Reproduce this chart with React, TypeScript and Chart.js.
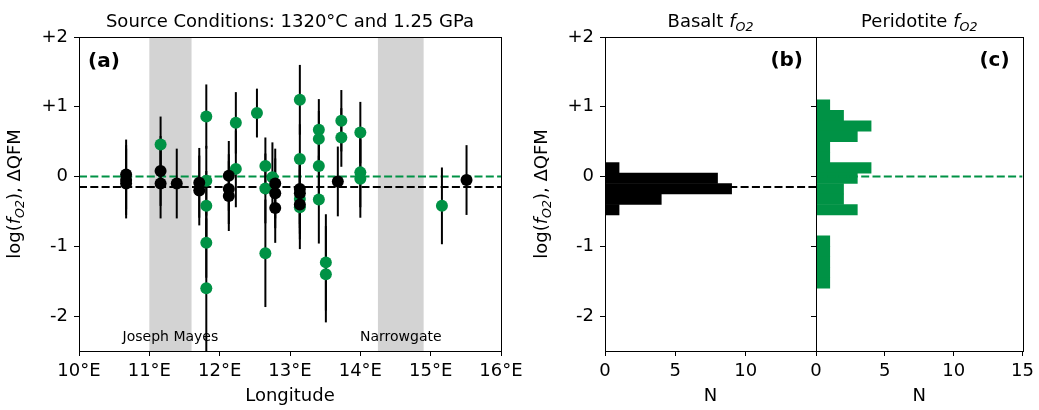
import { useEffect, useRef } from 'react';
import { Chart, registerables } from 'chart.js';

Chart.register(...registerables);

const W = 1039;
const H = 410;
const GREEN = '#009245';
const BAND = '#d3d3d3';
const FONT = "'DejaVu Sans', Verdana, sans-serif";

// ---------- Panel (a): basalt (black) and peridotite (green) estimates ----------
const blackLon = [10.67, 10.67, 10.67, 11.16, 11.16, 11.39, 11.71, 11.71, 12.13, 12.13, 12.13, 12.79, 12.79, 12.79, 13.14, 13.14, 13.14, 13.68, 15.51];
const blackVal = [0.03, -0.05, -0.1, 0.08, -0.1, -0.1, -0.09, -0.2, 0.01, -0.18, -0.28, -0.1, -0.24, -0.45, -0.18, -0.24, -0.4, -0.07, -0.05];
const blackErr = [0.5, 0.5, 0.5, 0.5, 0.5, 0.5, 0.5, 0.5, 0.5, 0.5, 0.5, 0.5, 0.5, 0.5, 0.5, 0.5, 0.5, 0.5, 0.5];

const greenLon = [11.16, 11.81, 11.81, 11.81, 11.81, 11.81, 12.23, 12.23, 12.53, 12.65, 12.65, 12.65, 12.75, 13.14, 13.14, 13.14, 13.14, 13.41, 13.41, 13.41, 13.41, 13.51, 13.51, 13.73, 13.73, 14.0, 14.0, 14.0, 15.16];
const greenVal = [0.46, 0.86, -0.06, -0.42, -0.95, -1.6, 0.77, 0.11, 0.91, 0.15, -0.17, -1.1, -0.01, 1.1, 0.25, -0.32, -0.44, 0.67, 0.54, 0.15, -0.33, -1.23, -1.4, 0.8, 0.56, 0.63, 0.06, -0.03, -0.42];
const greenErr = [0.4, 0.46, 0.5, 0.5, 0.5, 1.0, 0.44, 0.55, 0.35, 0.41, 0.5, 0.77, 0.5, 0.5, 0.5, 0.5, 0.6, 0.44, 0.4, 0.5, 0.63, 0.69, 0.69, 0.44, 0.42, 0.44, 0.5, 0.56, 0.55];

const basaltMean = -0.15;
const peridotiteMean = 0.0;

const bandStart = [11.0, 14.25];
const bandEnd = [11.6, 14.9];
const bandNames = ['Joseph Mayes', 'Narrowgate'];

const lonTicks = [10, 11, 12, 13, 14, 15, 16];
const qfmTicks = [-2, -1, 0, 1, 2];
const qfmLabels = ['-2', '-1', '0', '+1', '+2'];

// ---------- Panels (b) and (c): histograms ----------
const basaltBinCenters = [0.125, -0.025, -0.175, -0.325, -0.475];
const basaltCounts = [1, 8, 9, 4, 1];
const peridotiteBinCenters = [1.025, 0.875, 0.725, 0.575, 0.425, 0.275, 0.125, -0.025, -0.175, -0.325, -0.475, -0.625, -0.775, -0.925, -1.075, -1.225, -1.375, -1.525];
const peridotiteCounts = [1, 2, 4, 3, 1, 1, 4, 3, 2, 2, 3, 0, 0, 1, 1, 1, 1, 1];
const nTicksB = [0, 5, 10];
const nTicksC = [0, 5, 10, 15];

type Part = { t: string; it?: boolean; sub?: boolean };

function drawRich(ctx: CanvasRenderingContext2D, parts: Part[], x: number, y: number, size: number) {
  const fontFor = (p: Part) => `${p.it ? 'italic ' : ''}${p.sub ? size * 0.7 : size}px ${FONT}`;
  let total = 0;
  for (const p of parts) {
    ctx.font = fontFor(p);
    total += ctx.measureText(p.t).width;
  }
  let cx = x - total / 2;
  ctx.textAlign = 'left';
  ctx.textBaseline = 'alphabetic';
  for (const p of parts) {
    ctx.font = fontFor(p);
    ctx.fillText(p.t, cx, p.sub ? y + size * 0.22 : y);
    cx += ctx.measureText(p.t).width;
  }
}

const yTitleParts: Part[] = [
  { t: 'log(' },
  { t: 'f', it: true },
  { t: 'O2', it: true, sub: true },
  { t: '), ΔQFM' },
];

function frame(chart: any) {
  const { ctx, chartArea: a } = chart;
  ctx.save();
  ctx.strokeStyle = '#000';
  ctx.lineWidth = 1;
  ctx.strokeRect(Math.round(a.left) + 0.5, Math.round(a.top) + 0.5, Math.round(a.right - a.left), Math.round(a.bottom - a.top));
  ctx.restore();
}

function yScaleBase(width: number, labels: boolean) {
  return {
    type: 'linear' as const,
    min: -2.5,
    max: 2,
    offset: false,
    afterFit: (s: any) => { s.width = width; },
    afterBuildTicks: (s: any) => { s.ticks = qfmTicks.map((v) => ({ value: v })); },
    grid: { display: true, drawOnChartArea: false, drawTicks: true, tickLength: 5, color: '#000', lineWidth: 1, offset: false },
    border: { display: false },
    ticks: {
      padding: 6,
      color: '#000',
      font: { size: 18, family: FONT },
      callback: (v: any) => (labels ? qfmLabels[qfmTicks.indexOf(Number(v))] ?? '' : ''),
    },
  };
}

function xScaleBase(min: number, max: number, ticks: number[], fmt: (v: number) => string) {
  return {
    type: 'linear' as const,
    min,
    max,
    offset: false,
    afterFit: (s: any) => { s.height = 59; },
    afterBuildTicks: (s: any) => { s.ticks = ticks.map((v) => ({ value: v })); },
    grid: { display: true, drawOnChartArea: false, drawTicks: true, tickLength: 5, color: '#000', lineWidth: 1, offset: false },
    border: { display: false },
    ticks: {
      padding: 5,
      maxRotation: 0,
      color: '#000',
      font: { size: 18, family: FONT },
      callback: (v: any) => fmt(Number(v)),
    },
  };
}

export default function App() {
  const refA = useRef<HTMLCanvasElement>(null);
  const refB = useRef<HTMLCanvasElement>(null);
  const refC = useRef<HTMLCanvasElement>(null);

  useEffect(() => {
    document.body.style.margin = '0';

    const panelA: any = {
      id: 'panelA',
      beforeDatasetsDraw(chart: any) {
        const { ctx, chartArea: a, scales } = chart;
        ctx.save();
        ctx.fillStyle = BAND;
        for (let i = 0; i < bandStart.length; i++) {
          const x0 = scales.x.getPixelForValue(bandStart[i]);
          const x1 = scales.x.getPixelForValue(bandEnd[i]);
          ctx.fillRect(x0, a.top, x1 - x0, a.bottom - a.top);
        }
        ctx.fillStyle = '#000';
        ctx.font = `14px ${FONT}`;
        ctx.textAlign = 'center';
        ctx.textBaseline = 'middle';
        for (let i = 0; i < bandStart.length; i++) {
          const xc = scales.x.getPixelForValue((bandStart[i] + bandEnd[i]) / 2);
          ctx.fillText(bandNames[i], xc, a.bottom - 14);
        }
        ctx.restore();
      },
      beforeDatasetDraw(chart: any, args: any) {
        if (args.index !== 1) return;
        const { ctx, chartArea: a, scales } = chart;
        ctx.save();
        ctx.beginPath();
        ctx.rect(a.left, a.top, a.right - a.left, a.bottom - a.top);
        ctx.clip();
        ctx.strokeStyle = '#000';
        ctx.lineWidth = 2;
        const bars = (lon: number[], val: number[], err: number[]) => {
          for (let i = 0; i < lon.length; i++) {
            const x = scales.x.getPixelForValue(lon[i]);
            ctx.beginPath();
            ctx.moveTo(x, scales.y.getPixelForValue(val[i] + err[i]));
            ctx.lineTo(x, scales.y.getPixelForValue(val[i] - err[i]));
            ctx.stroke();
          }
        };
        bars(greenLon, greenVal, greenErr);
        bars(blackLon, blackVal, blackErr);
        ctx.restore();
      },
      afterDraw(chart: any) {
        frame(chart);
        const { ctx, chartArea: a } = chart;
        const cx = (a.left + a.right) / 2;
        ctx.save();
        ctx.fillStyle = '#000';
        ctx.font = `18px ${FONT}`;
        ctx.textAlign = 'center';
        ctx.textBaseline = 'alphabetic';
        ctx.fillText('Source Conditions: 1320°C and 1.25 GPa', cx, 27);
        ctx.fillText('Longitude', cx, 401);
        ctx.font = `bold 20px ${FONT}`;
        ctx.textAlign = 'left';
        ctx.textBaseline = 'middle';
        ctx.fillText('(a)', a.left + 9, a.top + 25);
        ctx.translate(20, (a.top + a.bottom) / 2);
        ctx.rotate(-Math.PI / 2);
        drawRich(ctx, yTitleParts, 0, 0, 18);
        ctx.restore();
      },
    };

    const chartA = new Chart(refA.current!, {
      type: 'scatter',
      data: {
        datasets: [
          {
            label: 'Basalt',
            data: blackLon.map((x, i) => ({ x, y: blackVal[i] })),
            backgroundColor: '#000',
            borderWidth: 0,
            pointRadius: 6,
          },
          {
            label: 'Peridotite',
            data: greenLon.map((x, i) => ({ x, y: greenVal[i] })),
            backgroundColor: GREEN,
            borderWidth: 0,
            pointRadius: 6,
          },
          {
            type: 'line',
            label: 'Basalt mean',
            data: [{ x: 10, y: basaltMean }, { x: 16, y: basaltMean }],
            borderColor: '#000',
            borderWidth: 2,
            borderDash: [8, 3.3],
            pointRadius: 0,
          } as any,
          {
            type: 'line',
            label: 'Peridotite mean',
            data: [{ x: 10, y: peridotiteMean }, { x: 16, y: peridotiteMean }],
            borderColor: GREEN,
            borderWidth: 2,
            borderDash: [8, 3.3],
            pointRadius: 0,
          } as any,
        ],
      },
      options: {
        animation: false,
        responsive: false,
        layout: { padding: { left: 19, right: W - 501, top: 37, bottom: 0 } },
        plugins: { legend: { display: false }, tooltip: { enabled: false } },
        scales: {
          x: xScaleBase(10, 16, lonTicks, (v) => `${v}°E`),
          y: yScaleBase(60, true),
        } as any,
      },
      plugins: [panelA],
    });

    const makeHistPlugin = (id: string, title: string, letter: string, withYTitle: boolean) => ({
      id,
      afterDraw(chart: any) {
        frame(chart);
        const { ctx, chartArea: a } = chart;
        const cx = (a.left + a.right) / 2;
        ctx.save();
        ctx.fillStyle = '#000';
        drawRich(ctx, [{ t: title + ' ' }, { t: 'f', it: true }, { t: 'O2', it: true, sub: true }], cx, 27, 18);
        ctx.font = `18px ${FONT}`;
        ctx.textAlign = 'center';
        ctx.textBaseline = 'alphabetic';
        ctx.fillText('N', cx, 401);
        ctx.font = `bold 20px ${FONT}`;
        ctx.textAlign = 'right';
        ctx.textBaseline = 'middle';
        ctx.fillText(letter, a.right - 13, a.top + 24);
        if (withYTitle) {
          ctx.translate(a.left - 58, (a.top + a.bottom) / 2);
          ctx.rotate(-Math.PI / 2);
          drawRich(ctx, yTitleParts, 0, 0, 18);
        }
        ctx.restore();
      },
    });

    const chartB = new Chart(refB.current!, {
      type: 'bar',
      data: {
        datasets: [
          {
            type: 'line',
            label: 'Basalt mean',
            data: [{ x: 0, y: basaltMean }, { x: 15, y: basaltMean }],
            borderColor: '#000',
            borderWidth: 2,
            borderDash: [8, 3.3],
            pointRadius: 0,
          } as any,
          {
            label: 'Basalt',
            data: basaltBinCenters.map((y, i) => ({ x: basaltCounts[i], y })),
            backgroundColor: '#000',
            borderWidth: 0,
            barPercentage: 1,
            categoryPercentage: 1,
          },
        ],
      },
      options: {
        indexAxis: 'y',
        animation: false,
        responsive: false,
        layout: { padding: { left: 545, right: W - 816, top: 37, bottom: 0 } },
        plugins: { legend: { display: false }, tooltip: { enabled: false } },
        scales: {
          x: xScaleBase(0, 15, nTicksB, (v) => String(v)),
          y: yScaleBase(60, true),
        } as any,
      },
      plugins: [makeHistPlugin('panelB', 'Basalt', '(b)', true)],
    });

    const chartC = new Chart(refC.current!, {
      type: 'bar',
      data: {
        datasets: [
          {
            type: 'line',
            label: 'Peridotite mean',
            data: [{ x: 0, y: peridotiteMean }, { x: 15, y: peridotiteMean }],
            borderColor: GREEN,
            borderWidth: 2,
            borderDash: [8, 3.3],
            pointRadius: 0,
          } as any,
          {
            label: 'Peridotite',
            data: peridotiteBinCenters.map((y, i) => ({ x: peridotiteCounts[i], y })),
            backgroundColor: GREEN,
            borderWidth: 0,
            barPercentage: 1,
            categoryPercentage: 1,
          },
        ],
      },
      options: {
        indexAxis: 'y',
        animation: false,
        responsive: false,
        layout: { padding: { left: 806, right: W - 1027, top: 37, bottom: 0 } },
        plugins: { legend: { display: false }, tooltip: { enabled: false } },
        scales: {
          x: xScaleBase(0, 15, nTicksC, (v) => String(v)),
          y: yScaleBase(10, false),
        } as any,
      },
      plugins: [makeHistPlugin('panelC', 'Peridotite', '(c)', false)],
    });

    return () => {
      chartA.destroy();
      chartB.destroy();
      chartC.destroy();
    };
  }, []);

  const cs: React.CSSProperties = { position: 'absolute', left: 0, top: 0, width: W, height: H };
  return (
    <div style={{ position: 'fixed', left: 0, top: 0, width: W, height: H, background: '#fff' }}>
      <canvas ref={refA} width={W} height={H} style={cs} />
      <canvas ref={refB} width={W} height={H} style={cs} />
      <canvas ref={refC} width={W} height={H} style={cs} />
    </div>
  );
}
